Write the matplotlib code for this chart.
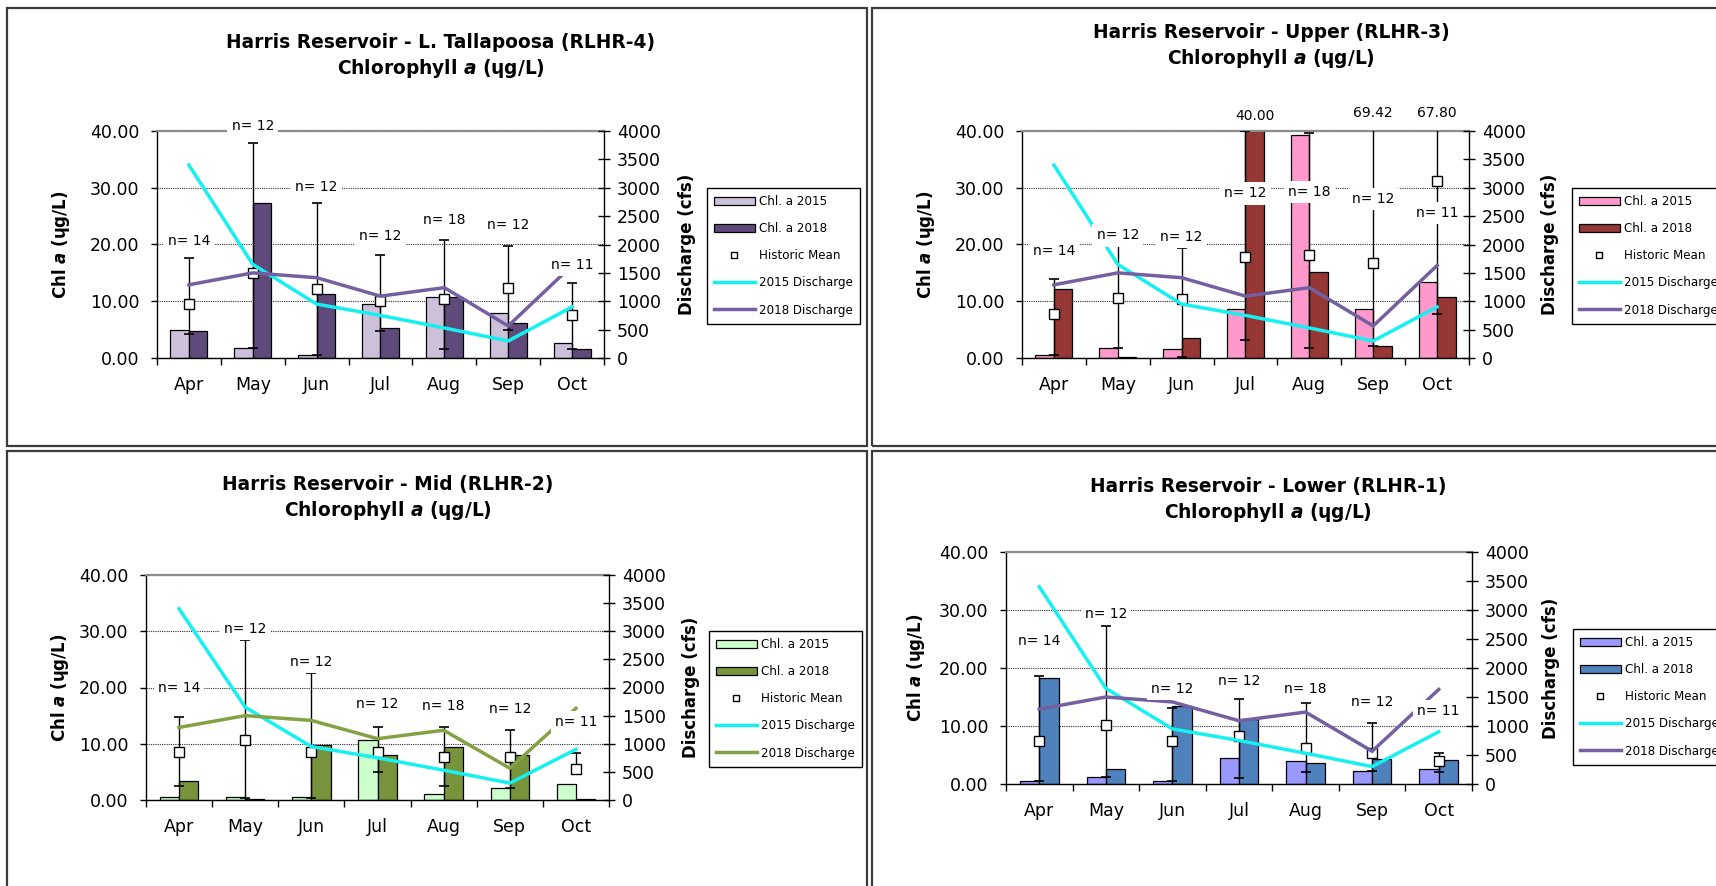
import matplotlib
matplotlib.use("Agg")
import matplotlib.pyplot as plt
import numpy as np
from matplotlib.patches import Rectangle, Patch
from matplotlib.lines import Line2D
from matplotlib.ticker import FormatStrFormatter

plt.rcParams["font.family"] = ["DejaVu Sans"]
plt.rcParams["mathtext.fontset"] = "custom"
plt.rcParams["mathtext.it"] = "DejaVu Sans:italic:bold"
plt.rcParams["mathtext.rm"] = "DejaVu Sans:bold"
plt.rcParams["mathtext.bf"] = "DejaVu Sans:bold"

# ---------------- data ----------------
months = ["Apr", "May", "Jun", "Jul", "Aug", "Sep", "Oct"]
q2015 = [3400, 1650, 950, 750, 530, 300, 900]      # cfs
q2018 = [1290, 1500, 1415, 1090, 1240, 565, 1630]  # cfs

n_rlhr4 = [14, 12, 12, 12, 18, 12, 11]
chl15_rlhr4 = [4.9, 1.7, 0.5, 9.6, 10.8, 8.0, 2.7]
chl18_rlhr4 = [4.8, 27.4, 11.3, 5.3, 10.7, 6.1, 1.6]
hist_rlhr4 = [9.6, 14.9, 12.2, 10.0, 10.4, 12.4, 7.5]
hi_rlhr4 = [17.6, 37.9, 27.4, 18.1, 20.8, 19.8, 13.3]
lo_rlhr4 = [4.3, 1.7, 0.5, 4.8, 1.6, 5.0, 1.6]

n_rlhr3 = [14, 12, 12, 12, 18, 12, 11]
chl15_rlhr3 = [0.6, 1.8, 1.6, 8.6, 39.3, 8.6, 13.4]
chl18_rlhr3 = [12.1, 0.1, 3.6, 40.0, 15.2, 2.1, 10.8]
hist_rlhr3 = [7.7, 10.6, 10.4, 17.8, 18.1, 16.8, 31.2]
hi_rlhr3 = [13.9, 19.9, 19.3, 40.0, 39.6, 69.42, 67.80]
lo_rlhr3 = [0.6, 1.8, 0.2, 3.2, 1.8, 2.1, 7.7]

n_rlhr2 = [14, 12, 12, 12, 18, 12, 11]
chl15_rlhr2 = [0.6, 0.6, 0.6, 10.7, 1.0, 2.2, 2.8]
chl18_rlhr2 = [3.3, 0.1, 9.8, 8.0, 9.4, 8.0, 0.1]
hist_rlhr2 = [8.6, 10.7, 8.6, 8.6, 7.7, 7.7, 5.6]
hi_rlhr2 = [14.7, 28.5, 22.6, 12.9, 12.9, 12.5, 8.4]
lo_rlhr2 = [2.5, 0.3, 0.3, 4.9, 2.5, 2.2, 4.7]

n_rlhr1 = [14, 12, 12, 12, 18, 12, 11]
chl15_rlhr1 = [0.5, 1.2, 0.5, 4.5, 4.0, 2.2, 2.6]
chl18_rlhr1 = [18.2, 2.6, 13.4, 11.2, 3.7, 4.3, 4.2]
hist_rlhr1 = [7.5, 10.1, 7.5, 8.2, 6.2, 5.3, 3.9]
hi_rlhr1 = [18.7, 27.2, 13.1, 14.7, 13.9, 10.6, 5.3]
lo_rlhr1 = [0.5, 1.2, 0.5, 1.0, 2.1, 2.2, 2.1]

# ---------------- layout (pixels) ----------------
W, H = 1716, 886
fig = plt.figure(figsize=(W / 100, H / 100), dpi=100)
fig.patch.set_facecolor("white")

CYAN = "#16F0F0"
PURPLE = "#7460A0"
OLIVE = "#84A244"


def frame(x0, y0, x1, y1):
    fig.add_artist(Rectangle((x0 / W, 1 - y1 / H), (x1 - x0) / W, (y1 - y0) / H,
                             transform=fig.transFigure, fill=False,
                             ec="#3c3c3c", lw=1.6, zorder=0))


def panel(ax_box, title, title_xy, leg_xy, lab_x, rlab_x, n_y,
          v15, v18, hist, hi, lo, nn, c15, c18, cq18, extra=None):
    x0, y0, x1, y1 = ax_box
    ax = fig.add_axes([x0 / W, 1 - y1 / H, (x1 - x0) / W, (y1 - y0) / H])
    x = np.arange(len(months))
    hist = np.array(hist); hi = np.array(hi); lo = np.array(lo)

    ax.bar(x - 0.145, v15, 0.29, color=c15, ec="black", lw=0.9, zorder=2)
    ax.bar(x + 0.145, v18, 0.29, color=c18, ec="black", lw=0.9, zorder=2)
    ax.errorbar(x, hist, yerr=[hist - lo, hi - hist], fmt="none", ecolor="black",
                elinewidth=1.0, capsize=3.3, capthick=1.2, zorder=3)
    ax.plot(x, hist, "s", ms=7, mfc="white", mec="black", mew=1.0, zorder=4)

    ax.set_xlim(-0.5, 6.5)
    ax.set_ylim(0, 40)
    ax.set_yticks([0, 10, 20, 30, 40])
    ax.yaxis.set_major_formatter(FormatStrFormatter("%.2f"))
    ax.set_axisbelow(True)
    ax.yaxis.grid(True, ls=(0, (1, 1)), color="#303030", lw=0.8)
    ax.set_xticks(x)
    ax.set_xticklabels(months)
    ax.set_xticks(np.arange(-0.5, 7, 1), minor=True)
    ax.tick_params(axis="x", which="major", length=0, labelsize=12.5, pad=13)
    ax.tick_params(axis="x", which="minor", length=5, width=1, direction="out")
    ax.tick_params(axis="y", direction="out", length=4.5, width=1, labelsize=12.5, pad=8)
    ax.spines["top"].set_color("#8c8c8c")
    ax.spines["top"].set_linewidth(1.6)
    ax.spines["right"].set_visible(False)
    for s in ("left", "bottom"):
        ax.spines[s].set_linewidth(1.0)
    ax.set_ylabel(r"Chl $\mathit{a}$ (ɥg/L)", fontsize=12, fontweight="bold")
    ax.yaxis.set_label_coords(lab_x, 0.5)

    ax2 = ax.twinx()
    ax2.set_ylim(0, 4000)
    ax2.set_yticks(range(0, 4001, 500))
    ax2.tick_params(axis="y", direction="inout", length=8.5, width=1, labelsize=12.5, pad=5)
    for s in ("top", "left", "bottom"):
        ax2.spines[s].set_visible(False)
    ax2.spines["right"].set_linewidth(1.0)
    ax2.plot(x, q2015, color=CYAN, lw=2.5, zorder=2, solid_joinstyle="miter")
    ax2.plot(x, q2018, color=cq18, lw=2.5, zorder=2, solid_joinstyle="miter")
    ax2.set_ylabel("Discharge (cfs)", fontsize=12, fontweight="bold")
    ax2.yaxis.set_label_coords(rlab_x, 0.5)

    for i, (n, yy) in enumerate(zip(nn, n_y)):
        ax2.text(i, yy, f"n= {n}", transform=ax.transData, ha="center", va="center",
                 fontsize=10, clip_on=False, zorder=6,
                 bbox=dict(fc="white", ec="none", pad=3))
    if extra:
        for xx, yy, s in extra:
            ax2.text(xx, yy, s, transform=ax.transData, ha="center", va="center",
                     fontsize=10, clip_on=False, zorder=6)

    tx, ty1, ty2 = title_xy
    fig.text(tx / W, 1 - ty1 / H, title, ha="center", va="center",
             fontsize=13.4, fontweight="bold")
    fig.text(tx / W, 1 - ty2 / H, r"Chlorophyll $\mathit{a}$ (ɥg/L)", ha="center",
             va="center", fontsize=13.4, fontweight="bold")

    handles = [Patch(fc=c15, ec="black", lw=0.9), Patch(fc=c18, ec="black", lw=0.9),
               Line2D([], [], ls="none", marker="s", ms=5, mfc="white", mec="black", mew=1),
               Line2D([], [], color=CYAN, lw=2.5), Line2D([], [], color=cq18, lw=2.5)]
    labels = ["Chl. a 2015", "Chl. a 2018", "Historic Mean", "2015 Discharge", "2018 Discharge"]
    leg = ax2.legend(handles, labels, loc="upper left",
                     bbox_to_anchor=(leg_xy[0] / W, 1 - leg_xy[1] / H),
                     bbox_transform=fig.transFigure, borderaxespad=0, fontsize=8.6,
                     handlelength=3.4, handleheight=0.7, handletextpad=0.35,
                     labelspacing=1.18, borderpad=0.6, fancybox=False,
                     framealpha=1, edgecolor="black")
    leg.get_frame().set_linewidth(1.0)
    leg.set_zorder(10)
    return ax, ax2


# panel frames
frame(7, 8, 867, 446)
frame(872, 8, 1740, 446)
frame(7, 451, 867, 900)
frame(872, 451, 1740, 900)

panel((157, 131, 604, 358), "Harris Reservoir - L. Tallapoosa (RLHR-4)", (441, 43, 68),
      (707, 188), -0.191, 1.166, [20.6, 40.9, 30.2, 21.5, 24.3, 23.5, 16.4],
      chl15_rlhr4, chl18_rlhr4, hist_rlhr4, hi_rlhr4, lo_rlhr4, n_rlhr4,
      "#CCC0DA", "#604A7B", PURPLE)

panel((1022, 131, 1469, 358), "Harris Reservoir - Upper (RLHR-3)", (1271, 33, 58),
      (1572, 188), -0.191, 1.161, [18.9, 21.6, 21.4, 29.0, 29.3, 28.0, 25.5],
      chl15_rlhr3, chl18_rlhr3, hist_rlhr3, hi_rlhr3, lo_rlhr3, n_rlhr3,
      "#FF99CC", "#953735", PURPLE,
      extra=[(3.145, 42.6, "40.00"), (5, 43.2, "69.42"), (6, 43.2, "67.80")])

panel((146, 575, 609, 800), "Harris Reservoir - Mid (RLHR-2)", (388, 485, 511),
      (709, 631), -0.162, 1.158, [19.9, 30.4, 24.6, 17.1, 16.8, 16.1, 13.9],
      chl15_rlhr2, chl18_rlhr2, hist_rlhr2, hi_rlhr2, lo_rlhr2, n_rlhr2,
      "#CCFFCC", "#77933C", OLIVE)

panel((1006, 552, 1472, 784), "Harris Reservoir - Lower (RLHR-1)", (1268, 486, 512),
      (1573, 629), -0.17, 1.150, [24.7, 29.3, 16.4, 17.7, 16.3, 14.1, 12.6],
      chl15_rlhr1, chl18_rlhr1, hist_rlhr1, hi_rlhr1, lo_rlhr1, n_rlhr1,
      "#9999FF", "#4F81BD", PURPLE)

fig.savefig("out.png", dpi=100, facecolor="white")
